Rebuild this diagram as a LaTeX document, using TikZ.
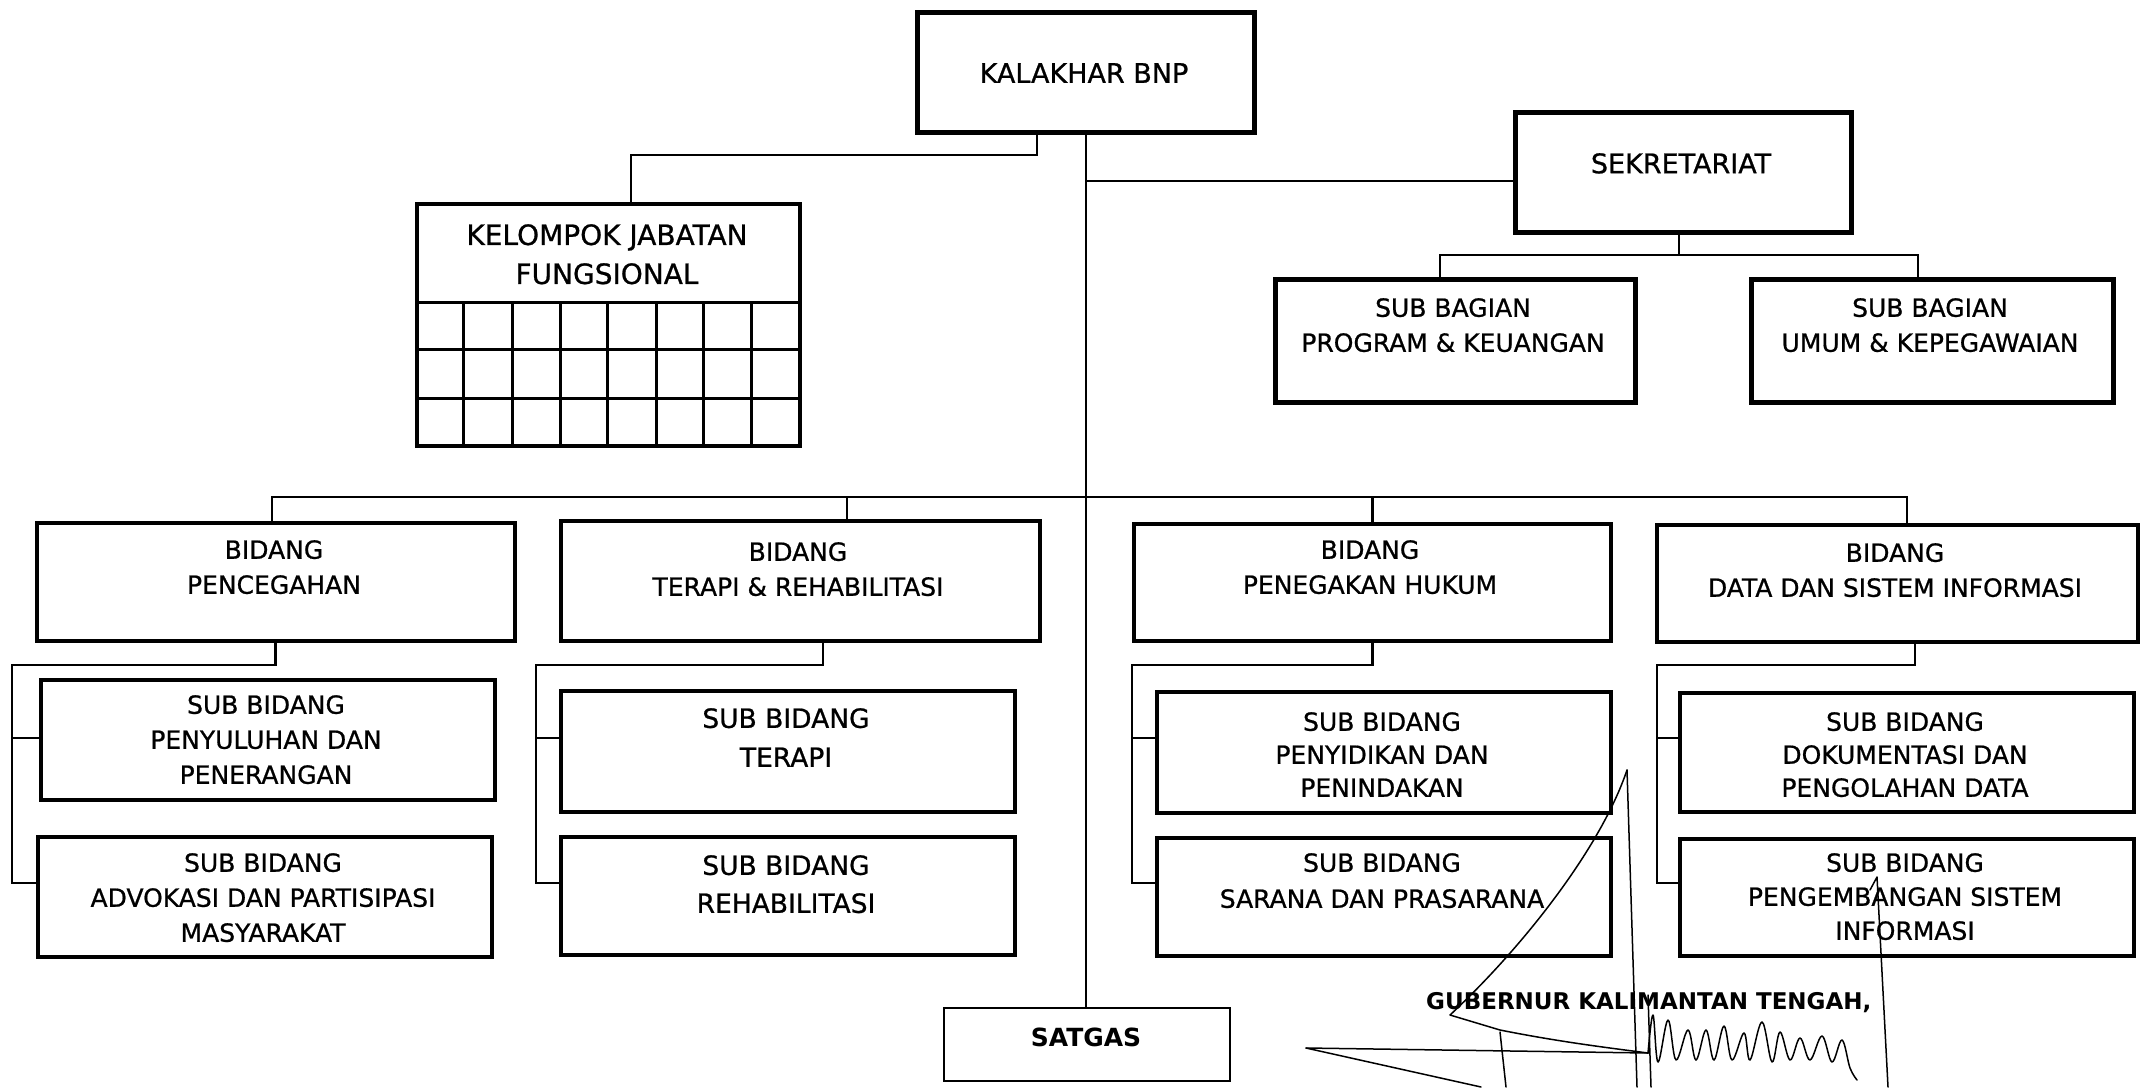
\documentclass[tikz,border=0pt]{standalone}
\usepackage{fontspec}
\setmainfont[FakeBold=0.8]{DejaVu Sans}
\newfontfamily\sigbold{DejaVu Sans Bold}
\begin{document}
\begin{tikzpicture}[x=1pt,y=-1pt,
  box/.style={draw, line width=3.5pt, inner sep=0pt, anchor=north west},
  topbox/.style={box, line width=4.5pt},
  thinbox/.style={box, line width=1.6pt},
  conn/.style={line width=2.6pt, line join=miter},
  trunk/.style={line width=1.7pt},
  gridline/.style={line width=3pt},
  sig/.style={line width=1.5pt, line cap=round, line join=round},
  lbl/.style={anchor=north, align=center, inner sep=0pt, font=\fontsize{25}{35}\selectfont},
  lblbig/.style={lbl, font=\fontsize{27}{35}\selectfont}
]
\fill[white] (0,0) rectangle (2144,1087);
\useasboundingbox (0,0) rectangle (2144,1087);

% ---------- boxes ----------
\node[topbox, minimum width=337pt, minimum height=120pt] (kalakhar) at (915,10) {};
\node[topbox, minimum width=336pt, minimum height=120pt] (sekretariat) at (1513,110) {};
\node[topbox, minimum width=360pt, minimum height=123pt] (prog) at (1273,277) {};
\node[topbox, minimum width=362pt, minimum height=123pt] (umum) at (1749,277) {};
\node[box, minimum width=383pt, minimum height=242pt] (kelompok) at (415,202) {};

\node[box, minimum width=478pt, minimum height=118pt] (pencegahan) at (35,521) {};
\node[box, minimum width=479pt, minimum height=120pt] (terapi) at (559,519) {};
\node[box, minimum width=477pt, minimum height=117pt] (hukum) at (1132,522) {};
\node[box, minimum width=481pt, minimum height=117pt] (data) at (1655,523) {};

\node[box, minimum width=454pt, minimum height=120pt] (penyuluhan) at (39,678) {};
\node[box, minimum width=454pt, minimum height=120pt] (advokasi) at (36,835) {};
\node[box, minimum width=454pt, minimum height=121pt] (subterapi) at (559,689) {};
\node[box, minimum width=454pt, minimum height=118pt] (rehab) at (559,835) {};
\node[box, minimum width=454pt, minimum height=121pt] (penyidikan) at (1155,690) {};
\node[box, minimum width=454pt, minimum height=118pt] (sarana) at (1155,836) {};
\node[box, minimum width=454pt, minimum height=119pt] (dokumentasi) at (1678,691) {};
\node[box, minimum width=454pt, minimum height=117pt] (pengembangan) at (1678,837) {};

\node[thinbox, minimum width=286pt, minimum height=73pt] (satgas) at (943,1007) {};

% ---------- texts ----------
\node[lblbig] (kalakhar-t) at (1084,63) {KALAKHAR BNP};
\node[lblbig] (sekretariat-t) at (1681,153) {SEKRETARIAT};
\node[lbl] (prog-t) at (1453,298) {SUB BAGIAN\\PROGRAM \& KEUANGAN};
\node[lbl] (umum-t) at (1930,298) {SUB BAGIAN\\UMUM \& KEPEGAWAIAN};
\node[lbl, font=\fontsize{28}{39}\selectfont] (kelompok-t) at (607,224) {KELOMPOK JABATAN\\FUNGSIONAL};

\node[lbl] (pencegahan-t) at (274,540) {BIDANG\\PENCEGAHAN};
\node[lbl] (terapi-t) at (798,542) {BIDANG\\TERAPI \& REHABILITASI};
\node[lbl] (hukum-t) at (1370,540) {BIDANG\\PENEGAKAN HUKUM};
\node[lbl] (data-t) at (1895,543) {BIDANG\\DATA DAN SISTEM INFORMASI};

\node[lbl] (penyuluhan-t) at (266,695) {SUB BIDANG\\PENYULUHAN DAN\\PENERANGAN};
\node[lbl] (advokasi-t) at (263,853) {SUB BIDANG\\ADVOKASI DAN PARTISIPASI\\MASYARAKAT};
\node[lbl, font=\fontsize{26.5}{39}\selectfont] (subterapi-t) at (786,708) {SUB BIDANG\\TERAPI};
\node[lbl, font=\fontsize{26.5}{38}\selectfont] (rehab-t) at (786,855) {SUB BIDANG\\REHABILITASI};
\node[lbl, font=\fontsize{25}{33}\selectfont] (penyidikan-t) at (1382,712) {SUB BIDANG\\PENYIDIKAN DAN\\PENINDAKAN};
\node[lbl, font=\fontsize{25}{36}\selectfont] (sarana-t) at (1382,853) {SUB BIDANG\\SARANA DAN PRASARANA};
\node[lbl, font=\fontsize{25}{33}\selectfont] (dokumentasi-t) at (1905,712) {SUB BIDANG\\DOKUMENTASI DAN\\PENGOLAHAN DATA};
\node[lbl, font=\fontsize{25}{34}\selectfont] (pengembangan-t) at (1905,853) {SUB BIDANG\\PENGEMBANGAN SISTEM\\INFORMASI};

\node[lbl, font=\sigbold\fontsize{25}{30}\selectfont] (satgas-t) at (1086,1028) {SATGAS};
\node[anchor=north west, inner sep=0pt, font=\sigbold\fontsize{23}{28}\selectfont] (gubernur) at (1426,992) {GUBERNUR KALIMANTAN TENGAH,};

% ---------- grid of kelompok ----------
\foreach \yy in {302,349,398}
  \draw[gridline] (kelompok.west |- 0,\yy) -- (kelompok.east |- 0,\yy);
\foreach \xx in {463,512,560,607,656,703,751}
  \draw[gridline] (\xx,302) -- (kelompok.south -| \xx,0);

% ---------- connectors ----------
\draw[trunk] (kalakhar.south) -- (kalakhar.south |- satgas.north);
\draw[conn] (kalakhar.south -| 1037,0) |- (631,155) -- (kelompok.north -| 631,0);
\draw[conn] (kalakhar.south |- 0,181) -- (sekretariat.west |- 0,181);
\draw[conn] (sekretariat.south -| 1679,0) -- (1679,255);
\draw[conn] (prog.north -| 1440,0) |- (1918,255) -- (umum.north -| 1918,0);

\draw[conn] (pencegahan.north -| 272,0) |- (1907,497) -- (data.north -| 1907,0);
\draw[conn] (terapi.north -| 847,0) -- (847,497);
\draw[conn] (hukum.north) -- (hukum.north |- 0,497);

\draw[conn] (pencegahan.south) |- (12,665) |- (advokasi.west |- 0,883);
\draw[conn] (12,738) -- (penyuluhan.west |- 0,738);
\draw[conn] (terapi.south -| 823,0) |- (536,665) |- (rehab.west |- 0,883);
\draw[conn] (536,738) -- (subterapi.west |- 0,738);
\draw[conn] (hukum.south) |- (1132,665) |- (sarana.west |- 0,883);
\draw[conn] (1132,738) -- (penyidikan.west |- 0,738);
\draw[conn] (data.south -| 1915,0) |- (1657,665) |- (pengembangan.west |- 0,883);
\draw[conn] (1657,738) -- (dokumentasi.west |- 0,738);

% ---------- signature strokes ----------
\draw[sig] (1627,770) .. controls (1600,850) and (1520,950) .. (1450,1015)
  -- (1500,1030) .. controls (1560,1042) and (1610,1048) .. (1648,1053);
\draw[sig] (1627,770) -- (1637,1087);
\draw[sig] (1306,1048) -- (1648,1053);
\draw[sig] (1306,1048) -- (1481,1087);
\draw[sig] (1500,1032) -- (1506,1087);
\draw[sig] (1648,995) -- (1651,1087);
\draw[sig] (1870,890) -- (1877,877) -- (1888,1087);
\draw[sig] plot[smooth, tension=0.6] coordinates {(1648,1053) (1653,1015) (1658,1062) (1668,1020) (1676,1060) (1688,1030) (1696,1060) (1706,1030) (1714,1060) (1724,1026) (1732,1060) (1744,1033) (1750,1060) (1762,1022) (1772,1062) (1780,1032) (1790,1060) (1800,1038) (1810,1060) (1822,1036) (1832,1062) (1842,1040) (1850,1068) (1857,1080)};
\end{tikzpicture}
\end{document}
